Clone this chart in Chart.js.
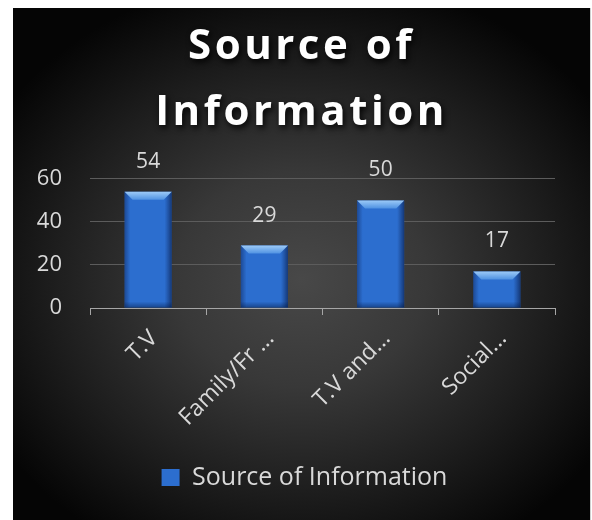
<!DOCTYPE html>
<html>
<head>
<meta charset="utf-8">
<script src="https://cdn.jsdelivr.net/npm/chart.js@4/dist/chart.umd.min.js"></script>
<style>
  html, body { margin: 0; padding: 0; background: #ffffff; width: 592px; height: 520px; overflow: hidden; }
  #panel {
    position: absolute; left: 13px; top: 8px; width: 577px; height: 512px;
    background: radial-gradient(ellipse 62% 60% at 50% 53%, #484848 0%, #383838 35%, #1d1d1d 70%, #050505 100%);
    border-right: 1px solid #d0d0d0;
  }
  #chart { display: block; }
</style>
</head>
<body>
<div id="panel"><canvas id="chart" width="577" height="512"></canvas></div>
<script>
const categories = ['T.V', 'Family/Fr ...', 'T.V and...', 'Social...'];
const seriesName = 'Source of Information';
const seriesValues = [54, 29, 50, 17];
const yTicks = [0, 20, 40, 60];

const FONT = '"Open Sans", Lato, sans-serif';
const TEXT = '#d9d9d9';

// Centres the title and legend on the whole canvas; the title also gets a shadow and wide spacing.
const centreBoxes = {
  id: 'centreBoxes',
  beforeDraw(chart) {
    const tb = chart.titleBlock;
    if (tb && !tb._wrapped) {
      const orig = tb.draw;
      tb.draw = function (...args) {
        const ctx = this.ctx;
        ctx.save();
        ctx.translate(chart.width / 2 - (this.left + this.right) / 2, 0);
        ctx.shadowColor = 'rgba(0,0,0,0.9)';
        ctx.shadowBlur = 6;
        ctx.shadowOffsetX = 2;
        ctx.shadowOffsetY = 3;
        if ('letterSpacing' in ctx) ctx.letterSpacing = '3.5px';
        orig.apply(this, args);
        ctx.restore();
      };
      tb._wrapped = true;
    }
    const lg = chart.legend;
    if (lg && !lg._wrapped) {
      const orig = lg.draw;
      lg.draw = function (...args) {
        const ctx = this.ctx;
        ctx.save();
        ctx.translate(chart.width / 2 - (this.left + this.right) / 2 + 3, 0);
        orig.apply(this, args);
        ctx.restore();
      };
      lg._wrapped = true;
    }
  }
};

// Bevel shading over each bar and the value above it.
const barDecor = {
  id: 'barDecor',
  afterDatasetsDraw(chart) {
    const ctx = chart.ctx;
    const meta = chart.getDatasetMeta(0);
    const data = chart.data.datasets[0].data;
    meta.data.forEach((bar, i) => {
      const { x, y, base, width } = bar.getProps(['x', 'y', 'base', 'width'], true);
      const l = x - width / 2, r = x + width / 2, h = base - y;
      const b = Math.min(8, h / 2);
      ctx.save();
      // side shading
      const g = ctx.createLinearGradient(l, 0, r, 0);
      g.addColorStop(0, 'rgba(10,30,80,0.45)');
      g.addColorStop(0.12, 'rgba(10,30,80,0.0)');
      g.addColorStop(0.85, 'rgba(10,30,80,0.0)');
      g.addColorStop(1, 'rgba(5,20,60,0.6)');
      ctx.fillStyle = g;
      ctx.fillRect(l, y, width, h);
      // top bevel
      const tg = ctx.createLinearGradient(0, y, 0, y + b);
      tg.addColorStop(0, '#9ccaf7');
      tg.addColorStop(1, '#4f92e2');
      ctx.fillStyle = tg;
      ctx.beginPath();
      ctx.moveTo(l, y);
      ctx.lineTo(r, y);
      ctx.lineTo(r - b, y + b);
      ctx.lineTo(l + b, y + b);
      ctx.closePath();
      ctx.fill();
      // bottom darkening
      const bg = ctx.createLinearGradient(0, base - 6, 0, base);
      bg.addColorStop(0, 'rgba(0,20,60,0)');
      bg.addColorStop(1, 'rgba(0,20,60,0.45)');
      ctx.fillStyle = bg;
      ctx.fillRect(l, base - 6, width, 6);
      // value label
      ctx.fillStyle = TEXT;
      ctx.font = '21px ' + FONT;
      ctx.textAlign = 'center';
      ctx.textBaseline = 'middle';
      ctx.fillText(String(data[i]), x, y - 30);
      ctx.restore();
    });
  }
};

new Chart(document.getElementById('chart'), {
  type: 'bar',
  data: {
    labels: categories,
    datasets: [{
      label: seriesName,
      data: seriesValues,
      backgroundColor: '#2c6ecf',
      borderWidth: 0,
      categoryPercentage: 0.81,
      barPercentage: 0.5
    }]
  },
  options: {
    responsive: false,
    animation: false,
    events: [],
    layout: { padding: { left: 0, right: 35, top: 0, bottom: 20 } },
    plugins: {
      tooltip: { enabled: false },
      title: {
        display: true,
        text: ['Source of', 'Information'],
        color: '#ffffff',
        font: { family: FONT, size: 42, weight: 'bold', lineHeight: 1.57 },
        padding: { top: 6, bottom: 33 }
      },
      legend: {
        display: true,
        position: 'bottom',
        labels: {
          color: TEXT,
          font: { family: FONT, size: 25 },
          boxWidth: 18,
          boxHeight: 17,
          padding: 8
        }
      }
    },
    scales: {
      x: {
        grid: { display: true, drawOnChartArea: false, drawTicks: true, tickLength: 7, color: '#a6a6a6', offset: true },
        border: { display: true, color: '#a6a6a6', width: 1 },
        ticks: { color: TEXT, font: { family: FONT, size: 23 }, minRotation: 45, maxRotation: 45, autoSkip: false, padding: 10, labelOffset: 6 },
        afterFit(scale) { scale.height = 149; }
      },
      y: {
        min: 0,
        max: 60,
        afterBuildTicks(scale) { scale.ticks = yTicks.map(v => ({ value: v })); },
        grid: { color: '#5c5c5c', lineWidth: 1, drawTicks: false },
        border: { display: false },
        ticks: { color: TEXT, font: { family: FONT, size: 22 }, padding: 28 },
        afterFit(scale) { scale.width = 77; }
      }
    }
  },
  plugins: [centreBoxes, barDecor]
});
</script>
</body>
</html>
